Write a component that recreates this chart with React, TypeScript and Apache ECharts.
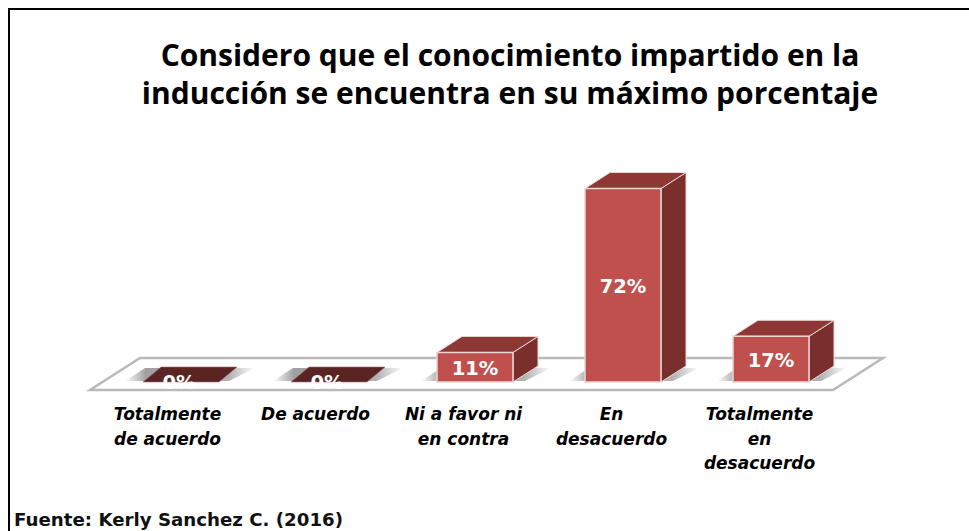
import React, { useEffect, useRef } from "react";
import * as echarts from "echarts";

const categories = [
  "Totalmente\nde acuerdo",
  "De acuerdo",
  "Ni a favor ni\nen contra",
  "En\ndesacuerdo",
  "Totalmente\nen\ndesacuerdo",
];
const values = [0, 0, 11, 72, 17];
const titleLines = "Considero que el conocimiento impartido en la\ninducción se encuentra en su máximo porcentaje";
const sourceText = "Fuente: Kerly Sanchez C. (2016)";

const W = 76; // bar front width
const DX = 25;
const DY = 16;

function renderFloor(params: any, api: any) {
  const c = params.coordSys;
  const y0 = api.coord([0, 0])[1];
  const l = c.x;
  const r = c.x + c.width;
  return {
    type: "polygon",
    shape: {
      points: [
        [l - 15, y0 + 8],
        [r - 12, y0 + 8],
        [r + 38, y0 - 24],
        [l + 35, y0 - 24],
      ],
    },
    style: { fill: "#ffffff", stroke: "#b9b9b9", lineWidth: 2.5 },
  };
}

function renderBar(params: any, api: any) {
  const idx = api.value(0);
  const v = api.value(1);
  const [cx, y0] = api.coord([idx, 0]);
  const [, yt] = api.coord([idx, v]);
  const x0 = cx - W / 2;
  const x1 = cx + W / 2;
  const zero = v === 0;
  const dx = zero ? 20 : DX;
  const dy = zero ? 15 : DY;
  const edge = "#e9d6d5";
  const children: any[] = [
    {
      type: "polygon",
      shape: {
        points: [
          [x0 - 16, y0 - 1],
          [x1 + 12, y0 - 1],
          [x1 + 38, y0 - 14],
          [x0 + 4, y0 - 14],
        ],
      },
      style: {
        fill: new echarts.graphic.LinearGradient(0, 0, 1, 0, [
          { offset: 0, color: "rgba(150,150,150,0)" },
          { offset: 0.16, color: "rgba(150,150,150,0.9)" },
          { offset: 0.8, color: "rgba(170,170,170,0.9)" },
          { offset: 1, color: "rgba(170,170,170,0)" },
        ]),
      },
    },
  ];
  if (zero) {
    children.push({
      type: "polygon",
      shape: { points: [[x0 + 2, y0], [x1 + 2, y0], [x1 + dx, y0 - dy], [x0 + dx, y0 - dy]] },
      style: { fill: "#5a2422", stroke: "#a86a68", lineWidth: 0.6 },
    });
  } else {
    children.push(
      {
        type: "polygon",
        shape: { points: [[x1, y0], [x1 + dx, y0 - dy], [x1 + dx, yt - dy], [x1, yt]] },
        style: { fill: "#7b2f2d", stroke: edge, lineWidth: 1 },
      },
      {
        type: "polygon",
        shape: { points: [[x0, yt], [x1, yt], [x1 + dx, yt - dy], [x0 + dx, yt - dy]] },
        style: { fill: "#8e3836", stroke: edge, lineWidth: 1 },
      },
      {
        type: "rect",
        shape: { x: x0, y: yt, width: W, height: y0 - yt },
        style: { fill: "#c0504d", stroke: edge, lineWidth: 1.5 },
      }
    );
  }
  children.push({
    type: "text",
    x: cx,
    y: (y0 + yt) / 2 + (zero ? 0 : 1),
    style: {
      text: v + "%",
      fill: "#ffffff",
      font: 'bold 19.5px "DejaVu Sans"',
      align: "center",
      verticalAlign: "middle",
    },
  });
  return { type: "group", children };
}

export default function App() {
  const ref = useRef<HTMLDivElement>(null);
  useEffect(() => {
    const chart = echarts.init(ref.current!, null, { renderer: "svg" });
    chart.setOption({
      animation: false,
      backgroundColor: "#ffffff",
      title: {
        text: titleLines,
        left: 505,
        top: 30,
        textAlign: "center",
        textStyle: {
          fontFamily: "Open Sans",
          fontWeight: "bold",
          fontSize: 30,
          lineHeight: 38,
          color: "#000000",
        },
      },
      graphic: [
        {
          type: "rect",
          silent: true,
          shape: { x: 9, y: 9, width: 970, height: 540 },
          style: { fill: "none", stroke: "#000000", lineWidth: 2 },
        },
        {
          type: "text",
          x: 14,
          y: 519,
          style: {
            text: sourceText,
            fill: "#111111",
            font: 'bold 18.2px "DejaVu Sans"',
            verticalAlign: "middle",
          },
        },
      ],
      grid: { left: 105, width: 740, top: 167, height: 215 },
      xAxis: {
        type: "category",
        data: categories,
        axisLine: { show: false },
        axisTick: { show: false },
        axisLabel: {
          interval: 0,
          margin: 20,
          padding: [0, 23, 0, 0],
          color: "#000000",
          fontFamily: "DejaVu Sans",
          fontWeight: "bold",
          fontStyle: "italic",
          fontSize: 17,
          lineHeight: 24.5,
        },
      },
      yAxis: { type: "value", min: 0, max: 80, show: false, splitLine: { show: false } },
      series: [
        {
          type: "custom",
          coordinateSystem: "cartesian2d",
          data: [[0, 0]],
          renderItem: renderFloor,
          clip: false,
          z: 1,
          silent: true,
        },
        {
          type: "custom",
          coordinateSystem: "cartesian2d",
          data: values.map((v, i) => [i, v]),
          encode: { x: 0, y: 1 },
          renderItem: renderBar,
          clip: false,
          z: 2,
          silent: true,
        },
      ],
    });
    return () => chart.dispose();
  }, []);
  return <div ref={ref} style={{ position: "absolute", left: 0, top: 0, width: 969, height: 531 }} />;
}
